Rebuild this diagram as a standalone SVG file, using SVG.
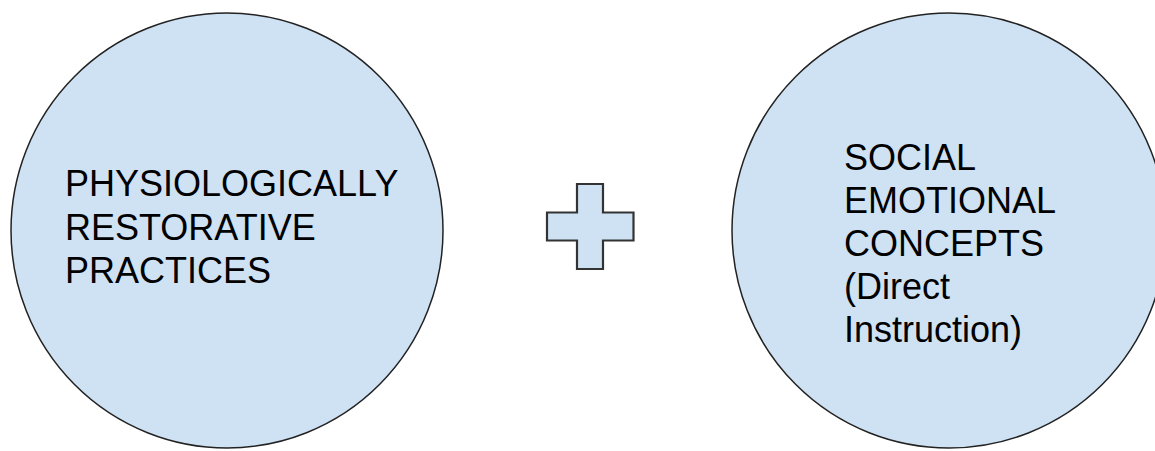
<svg xmlns="http://www.w3.org/2000/svg" width="1155" height="451" viewBox="0 0 1155 451">
<style>
.shape{fill:#cfe2f3;stroke:#222;stroke-width:1.5}
.plus{fill:#cfe2f3;stroke:#333;stroke-width:2.2}
.lbl{font-family:"Liberation Sans",Arial,sans-serif;font-size:36px;fill:#000}
</style>
<rect width="1155" height="451" fill="#fff"/>
<g id="node-physio">
<ellipse class="shape" cx="227" cy="230.5" rx="216" ry="217.5"/>
<text class="lbl" x="65"><tspan x="65" y="196">PHYSIOLOGICALLY</tspan><tspan x="65" y="239.5">RESTORATIVE</tspan><tspan x="65" y="283">PRACTICES</tspan></text>
</g>
<g id="node-plus">
<path class="plus" d="M577,184 H603 V212.5 H633.5 V240.5 H603 V269 H577 V240.5 H547 V212.5 H577 Z"/>
</g>
<g id="node-social">
<ellipse class="shape" cx="949" cy="230.5" rx="217" ry="217.5"/>
<text class="lbl"><tspan x="844" y="170">SOCIAL</tspan><tspan x="844" y="213">EMOTIONAL</tspan><tspan x="844" y="256">CONCEPTS</tspan><tspan x="844" y="299">(Direct</tspan><tspan x="844" y="342">Instruction)</tspan></text>
</g>
<g id="connectors"></g>
</svg>
